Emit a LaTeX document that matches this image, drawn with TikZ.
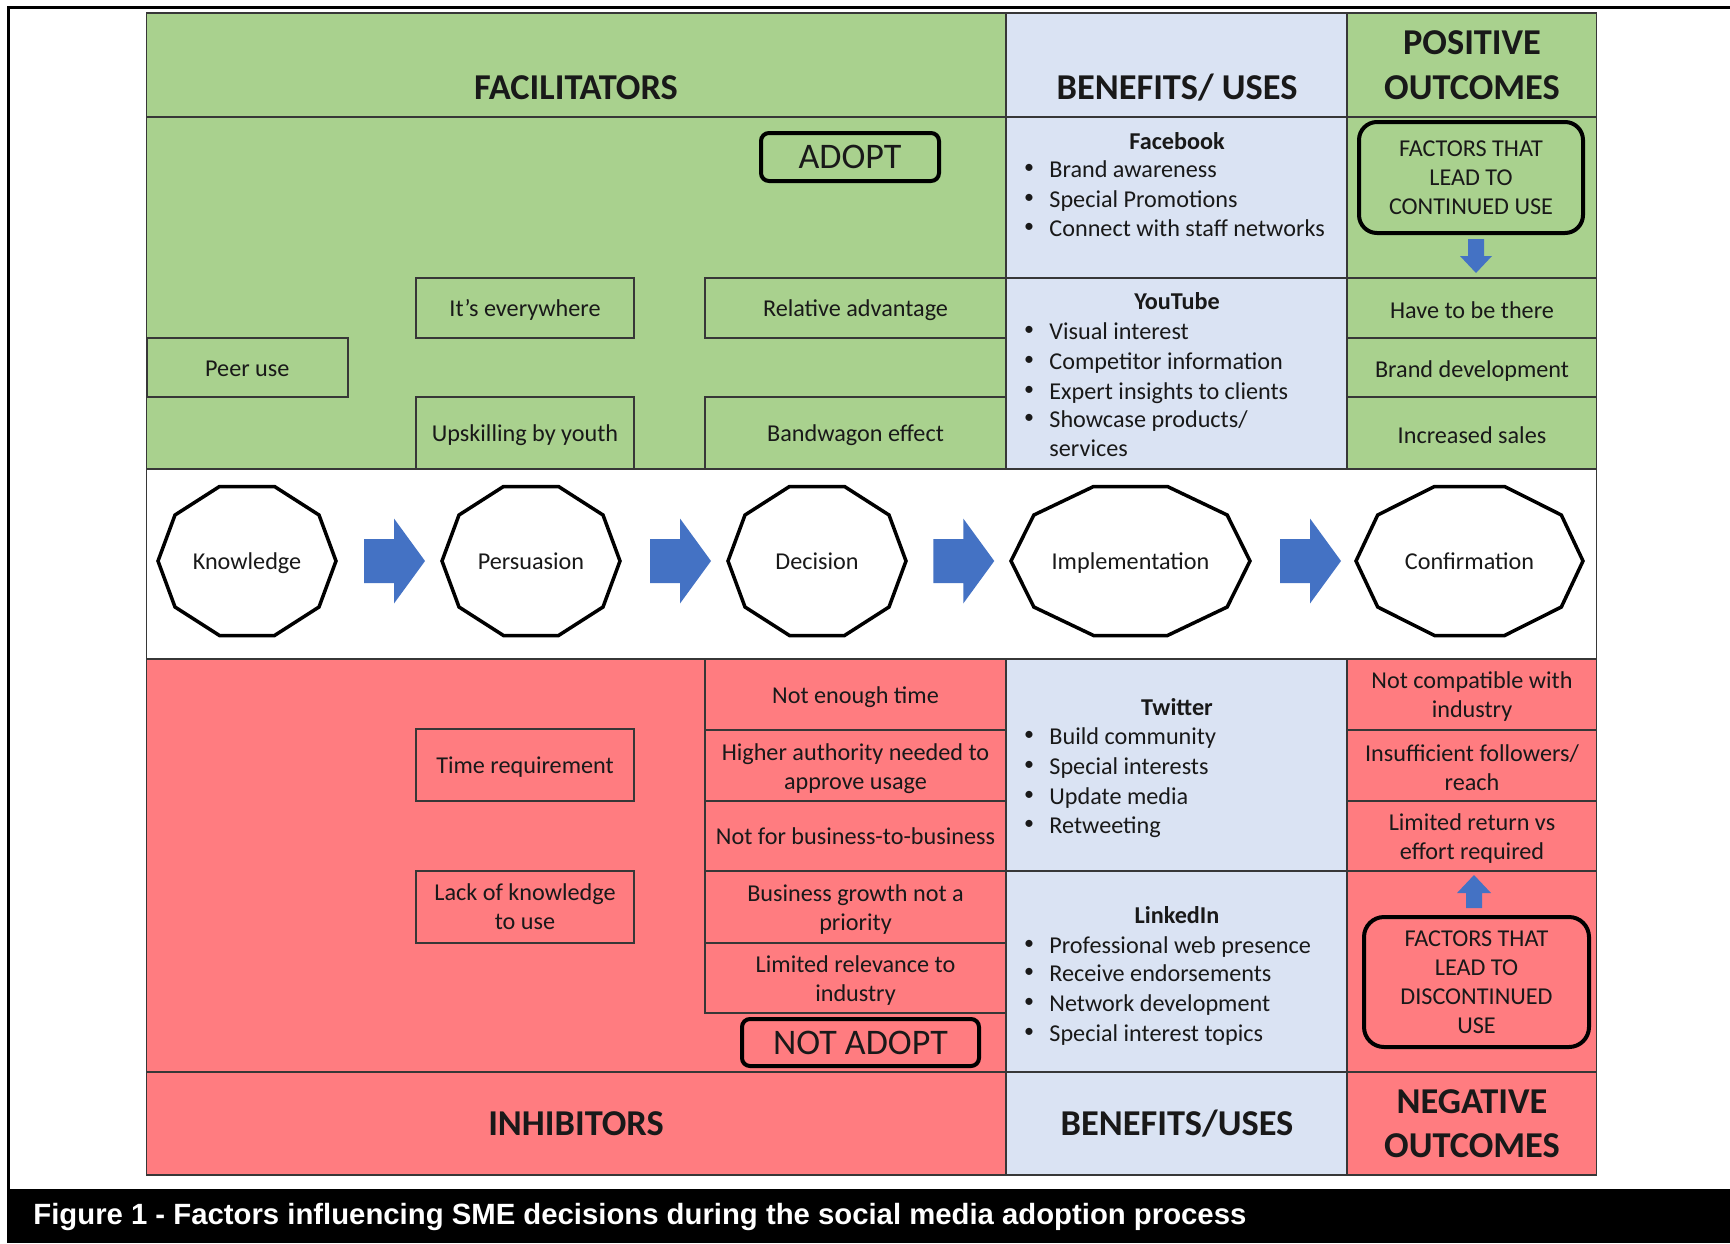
\documentclass[tikz,border=0pt]{standalone}
\usepackage{fontspec}
\setmainfont{Carlito}
\newfontfamily\capfont{Liberation Sans}
\usetikzlibrary{calc}
\definecolor{gr}{RGB}{169,209,142}
\definecolor{bl}{RGB}{218,227,243}
\definecolor{rd}{RGB}{255,124,128}
\definecolor{ab}{RGB}{68,114,196}
\definecolor{ln}{RGB}{55,55,55}
\definecolor{tx}{RGB}{25,25,25}
\newcommand\decag[2]{\draw[decline] (#1.center) +(#2,0) -- +(0.809*#2,46) -- +(0.309*#2,74.5) -- +(-0.309*#2,74.5) -- +(-0.809*#2,46) -- +(-#2,0) -- +(-0.809*#2,-46) -- +(-0.309*#2,-74.5) -- +(0.309*#2,-74.5) -- +(0.809*#2,-46) -- cycle;}
\begin{document}
\begin{tikzpicture}[x=0.5pt,y=-0.5pt,
  grid/.style={draw=ln,line width=0.75pt},
  one/.style={text height=10pt,text depth=1.2pt},
  txt/.style={font=\fontsize{12.1}{14.5}\selectfont,align=center,inner sep=0pt,text=tx},
  cellbox/.style={txt,draw=ln,line width=0.75pt},
  rbox/.style={txt,draw=black,line width=2pt},
  hdr/.style={font=\fontsize{18.2}{22.2}\selectfont\bfseries,align=center,inner sep=0pt,text=tx},
  ttl/.style={font=\fontsize{12.1}{14.5}\selectfont\bfseries,inner sep=0pt,text=tx,one},
  item/.style={font=\fontsize{12.1}{14.5}\selectfont,anchor=west,inner sep=0pt,text=tx,one},
  bul/.style={font=\fontsize{10}{12}\selectfont,inner sep=0pt,text=tx},
  decline/.style={draw=black,line width=1.75pt},
  dec/.style={font=\fontsize{12.1}{14.5}\selectfont,inner sep=0pt,text=tx,one},
  barrow/.pic={\fill[ab] (0,-22) -- (30,-22) -- (30,-42.5) -- (61,0) -- (30,42.5) -- (30,22) -- (0,22) -- cycle;}
]
\useasboundingbox (0,0) rectangle (1730,1243);
\fill[white] (0,0) rectangle (1730,1243);
% region fills
\fill[gr] (146.7,13) rectangle (1596.5,469);
\fill[rd] (146.7,659) rectangle (1596.5,1175);
\fill[bl] (1006,13) rectangle (1347,469);
\fill[bl] (1006,659) rectangle (1347,1175);
% grid
\draw[grid] (146.7,13) rectangle (1596.5,1175);
\draw[grid] (146.7,117) -- (1596.5,117) (146.7,469) -- (1596.5,469)
  (146.7,659) -- (1596.5,659) (146.7,1072) -- (1596.5,1072);
\draw[grid] (1006,13) -- (1006,469) (1347,13) -- (1347,469)
  (1006,659) -- (1006,1175) (1347,659) -- (1347,1175);
\draw[grid] (1006,278) -- (1596.5,278) (1347,338) -- (1596.5,338) (1347,397) -- (1596.5,397);
\draw[grid] (1347,730) -- (1596.5,730) (1347,801) -- (1596.5,801) (1006,871) -- (1596.5,871);
% outer frame and caption bar
\draw[black,line width=1.5pt] (1730,7) -- (8,7) -- (8,1189);
\fill[black] (6.5,1189) rectangle (1730,1243);
\node[anchor=west,inner sep=0pt,text=white,font=\capfont\bfseries\fontsize{14.65}{17}\selectfont] (cap) at (33,1217)
  {Figure 1 - Factors influencing SME decisions during the social media adoption process};
% headers
\node[hdr] (hfac) at (576,88) {FACILITATORS};
\node[hdr] (hben) at (1177,88) {BENEFITS/ USES};
\node[hdr] (hpos) at (1472,65) {POSITIVE\\OUTCOMES};
\node[hdr] (hinh) at (576,1124) {INHIBITORS};
\node[hdr] (hben2) at (1177,1124) {BENEFITS/USES};
\node[hdr] (hneg) at (1472,1123.5) {NEGATIVE\\OUTCOMES};
% facilitators
\node[rbox,font=\fontsize{18}{20}\selectfont,minimum width=89pt,minimum height=24pt,rounded corners=4pt] (adopt) at (850,157) {ADOPT};
\node[cellbox,one,minimum width=109pt,minimum height=30pt] (every) at (525,308) {It’s everywhere};
\node[cellbox,one,minimum width=150.5pt,minimum height=30pt] (reladv) at (855.5,308) {Relative advantage};
\node[cellbox,one,minimum width=100.5pt,minimum height=29.5pt] (peer) at (247.3,367.5) {Peer use};
\node[cellbox,one,minimum width=109pt,minimum height=36pt] (upskill) at (525,433) {Upskilling by youth};
\node[cellbox,one,minimum width=150.5pt,minimum height=36pt] (bandw) at (855.5,433) {Bandwagon effect};
% positive outcomes
\node[rbox,minimum width=112pt,minimum height=55.5pt,rounded corners=9pt] (contuse) at (1471,177.5) {FACTORS THAT\\LEAD TO\\CONTINUED USE};
\node[txt,one] (have) at (1472,310) {Have to be there};
\node[txt,one] (branddev) at (1472,368.5) {Brand development};
\node[txt,one] (sales) at (1472,435) {Increased sales};
\fill[ab] ($(contuse.south)+(-3,4)$) coordinate (da) -- ++(16,0) -- ++(0,17) -- ++(8,0) -- ++(-16,17) -- ++(-16,-17) -- ++(8,0) -- cycle;
% benefits top
\node[ttl] (fb) at (1177,141) {Facebook};
\foreach \yy/\lab [count=\i] in {169/{Brand awareness},199/{Special Promotions},228/{Connect with staff networks}}{
  \node[bul] (fbb\i) at (1029,\yy) {•};
  \node[item] (fbi\i) at (1049,\yy) {\lab};
}
\node[ttl] (yt) at (1177,301) {YouTube};
\foreach \yy/\lab [count=\i] in {331/{Visual interest},361/{Competitor information},390.5/{Expert insights to clients},419/{Showcase products/}}{
  \node[bul] (ytb\i) at (1029,\yy) {•};
  \node[item] (yti\i) at (1049,\yy) {\lab};
}
\node[item] (yti5) at (1049,448) {services};
% process band
\node[dec] (know) at (247,561) {Knowledge};
\node[dec] (pers) at (531,561) {Persuasion};
\node[dec] (deci) at (817,561) {Decision};
\node[dec] (impl) at (1130.5,561) {Implementation};
\node[dec] (conf) at (1469.5,561) {Confirmation};
\decag{know}{89}
\decag{pers}{89}
\decag{deci}{89}
\decag{impl}{119.5}
\decag{conf}{113.5}
\path ($(know.center)!0.5!(pers.center)+(-25,0)$) pic {barrow};
\path ($(pers.center)!0.5!(deci.center)+(-24,0)$) pic {barrow};
\path ($(deci.center)!0.5!(impl.center)+(-40.5,0)$) pic {barrow};
\path ($(impl.center)!0.5!(conf.center)+(-20,0)$) pic {barrow};
% inhibitors
\node[cellbox,one,minimum width=109pt,minimum height=36pt] (timereq) at (525,765) {Time requirement};
\node[cellbox,minimum width=109pt,minimum height=36pt] (lack) at (525,907) {Lack of knowledge\\to use};
\node[cellbox,one,minimum width=150.5pt,minimum height=35.5pt] (notime) at (855.5,694.5) {Not enough time};
\node[cellbox,minimum width=150.5pt,minimum height=35.5pt] (higher) at (855.5,765.5) {};
\node[txt] (highert) at (855.5,768.5) {Higher authority needed to\\approve usage};
\node[cellbox,one,minimum width=150.5pt,minimum height=35pt] (b2b) at (855.5,836) {Not for business-to-business};
\node[cellbox,minimum width=150.5pt,minimum height=36pt] (growth) at (855.5,907) {};
\node[txt] (growtht) at (855.5,909.5) {Business growth not a\\priority};
\node[cellbox,minimum width=150.5pt,minimum height=35pt] (limrel) at (855.5,978) {};
\node[txt] (limrelt) at (855.5,981) {Limited relevance to\\industry};
\node[rbox,font=\fontsize{18}{20}\selectfont,minimum width=118.5pt,minimum height=23.5pt,rounded corners=4pt] (notadopt) at (860.5,1042.5) {NOT ADOPT};
% benefits bottom
\node[ttl] (tw) at (1177,707) {Twitter};
\foreach \yy/\lab [count=\i] in {736/{Build community},766/{Special interests},795.5/{Update media},825/{Retweeting}}{
  \node[bul] (twb\i) at (1029,\yy) {•};
  \node[item] (twi\i) at (1049,\yy) {\lab};
}
\node[ttl] (li) at (1177,915) {LinkedIn};
\foreach \yy/\lab [count=\i] in {944.5/{Professional web presence},973/{Receive endorsements},1003/{Network development},1033/{Special interest topics}}{
  \node[bul] (lib\i) at (1029,\yy) {•};
  \node[item] (lii\i) at (1049,\yy) {\lab};
}
% negative outcomes
\node[txt] (compat) at (1472,696.5) {Not compatible with\\industry};
\node[txt] (insuff) at (1472,768) {Insufficient followers/\\reach};
\node[txt] (limret) at (1472,838.5) {Limited return vs\\effort required};
\node[rbox,minimum width=112.5pt,minimum height=65pt,rounded corners=10pt] (discont) at (1476.5,982) {FACTORS THAT\\LEAD TO\\DISCONTINUED\\USE};
\fill[ab] ($(discont.north)+(-10.5,-7)$) coordinate (ua) -- ++(16,0) -- ++(0,-15) -- ++(9,0) -- ++(-17,-18) -- ++(-17,18) -- ++(9,0) -- cycle;
\end{tikzpicture}
\end{document}
